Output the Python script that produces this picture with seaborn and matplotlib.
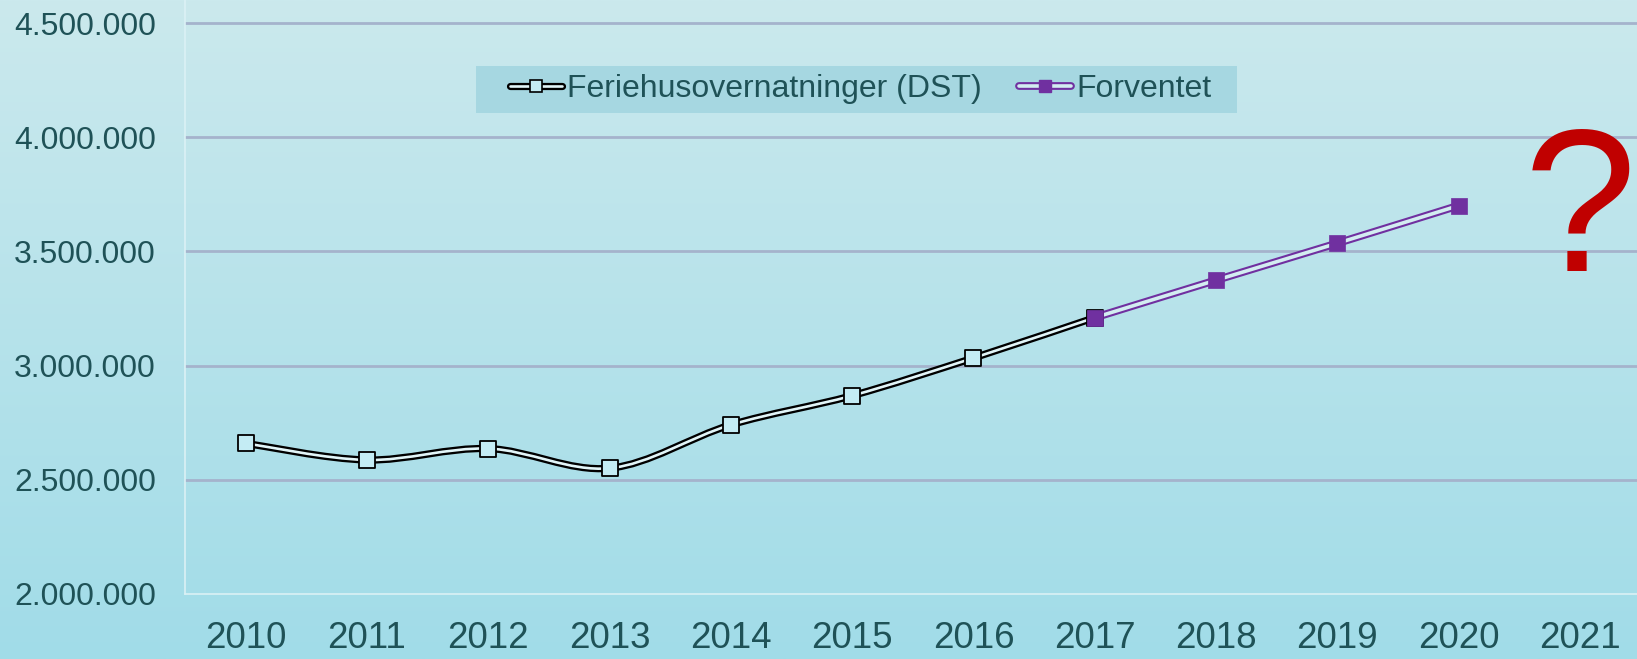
import numpy as np
import matplotlib.pyplot as plt
import seaborn as sns
from matplotlib.path import Path
from matplotlib.patches import PathPatch, Rectangle
from matplotlib.lines import Line2D
from matplotlib.legend_handler import HandlerTuple

# data
years_dst = [2010, 2011, 2012, 2013, 2014, 2015, 2016, 2017]
dst = [2659000, 2586000, 2636000, 2550000, 2740000, 2868000, 3033000, 3210000]
years_fc = [2017, 2018, 2019, 2020]
forventet = [3210000, 3374000, 3536000, 3701000]
year_ticks = list(range(2010, 2022))
y_ticks = [2000000, 2500000, 3000000, 3500000, 4000000, 4500000]
y_labels = ['2.000.000', '2.500.000', '3.000.000', '3.500.000', '4.000.000', '4.500.000']
labels = ['Feriehusovernatninger (DST)', 'Forventet']

TXT = '#1f5257'
PURPLE = '#7030a0'
MFILL = '#c4ecf4'
INNER_K = '#e2f5f8'
INNER_P = '#d3edf1'

sns.set_theme(style='white')
plt.rcParams['font.family'] = ['Liberation Sans', 'DejaVu Sans']


def smooth_path(xs, ys):
    # excel-style smoothed line: bezier through the points
    pts = np.column_stack([xs, ys]).astype(float)
    n = len(pts)
    verts = [pts[0]]
    codes = [Path.MOVETO]
    for i in range(n - 1):
        p0 = pts[i - 1] if i > 0 else pts[i]
        p1, p2 = pts[i], pts[i + 1]
        p3 = pts[i + 2] if i + 2 < n else pts[i + 1]
        verts += [p1 + (p2 - p0) / 6, p2 - (p3 - p1) / 6, p2]
        codes += [Path.CURVE4] * 3
    return Path(verts, codes)


def double_line(ax, xs, ys, outer, inner, w_out, w_in):
    p = smooth_path(xs, ys)
    ax.add_patch(PathPatch(p, fc='none', ec=outer, lw=w_out, zorder=3))
    ax.add_patch(PathPatch(p, fc='none', ec=inner, lw=w_in, zorder=3.1))


fig = plt.figure(figsize=(16.37, 6.59), dpi=100)

# background gradient
bg = fig.add_axes([0, 0, 1, 1], zorder=-10)
top = np.array([203, 233, 237]) / 255
bot = np.array([161, 220, 232]) / 255
t = np.linspace(0, 1, 256)[:, None]
grad = top[None, :] * (1 - t) + bot[None, :] * t
bg.imshow(np.repeat(grad[:, None, :], 2, axis=1), aspect='auto', extent=[0, 1, 0, 1])
# legend box
bg.add_patch(Rectangle((0.2908, 0.8285), 0.4649, 0.0713, transform=fig.transFigure,
                       facecolor='#a6d7e1', edgecolor='none'))
bg.axis('off')

ax = fig.add_axes([0.1130, 0.0991, 0.8892, 0.9009])
ax.patch.set_alpha(0)

double_line(ax, years_dst, dst, 'black', INNER_K, 5.2, 1.9)
double_line(ax, years_fc, forventet, PURPLE, INNER_P, 5.6, 2.6)
sns.scatterplot(x=years_dst, y=dst, marker='s', s=125, color=MFILL,
                edgecolor='black', linewidth=1.3, zorder=4, ax=ax)
sns.scatterplot(x=years_fc, y=forventet, marker='s', s=135, color=PURPLE,
                edgecolor=PURPLE, linewidth=0.5, zorder=5, ax=ax)

ax.set_xlim(2009.5, 2021.5)
ax.set_ylim(2000000, 4602000)
ax.set_xticks(year_ticks)
ax.set_xticklabels([str(y) for y in year_ticks])
ax.set_yticks(y_ticks)
ax.set_yticklabels(y_labels)
ax.tick_params(axis='x', length=0, pad=20, labelsize=26.5, labelcolor=TXT)
ax.tick_params(axis='y', length=0, pad=21, labelsize=23, labelcolor=TXT)
for y in y_ticks[1:]:
    ax.axhline(y, color='#a5b3cc', lw=2.0, zorder=1)
for s in ['top', 'right']:
    ax.spines[s].set_visible(False)
for s in ['left', 'bottom']:
    ax.spines[s].set_color('#dbf1f5')
    ax.spines[s].set_linewidth(1.2)
ax.set_xlabel('')
ax.set_ylabel('')

h1 = (Line2D([], [], color='black', lw=5.2),
      Line2D([], [], color=INNER_K, lw=1.9, marker='s', ms=8.5,
             mfc=MFILL, mec='black', mew=1.2))
h2 = (Line2D([], [], color=PURPLE, lw=5.6),
      Line2D([], [], color=INNER_P, lw=2.6, marker='s', ms=8.5,
             mfc=PURPLE, mec=PURPLE))
fig.legend([h1, h2], labels, handler_map={tuple: HandlerTuple(ndivide=1, pad=0)},
           loc='center', bbox_to_anchor=(0.5257, 0.8642), ncol=2,
           fontsize=23, labelcolor=TXT, frameon=False,
           handlelength=1.63, handletextpad=0.16, columnspacing=1.16,
           borderpad=0)

fig.text(0.9655, 0.5892, '?', color='#c00000', fontsize=146,
         ha='center', va='baseline')

fig.savefig('out.png', dpi=100)
